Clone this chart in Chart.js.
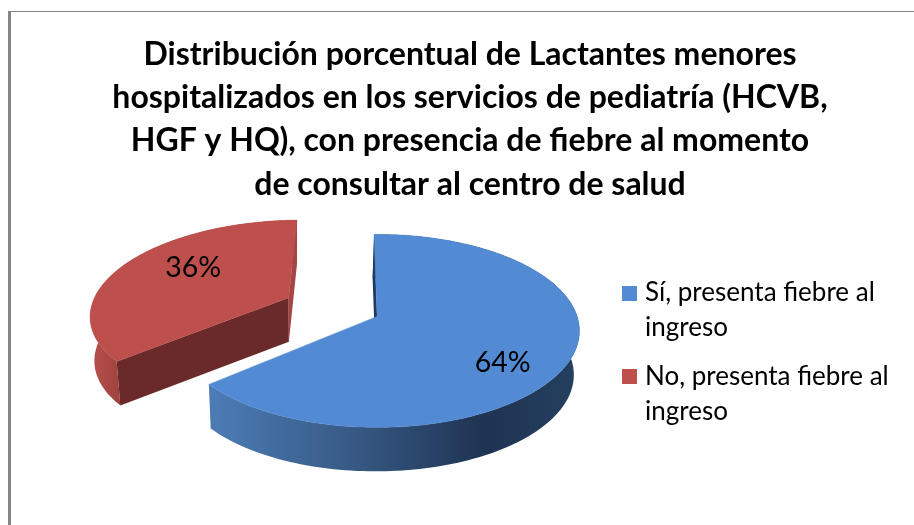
<!DOCTYPE html>
<html><head><meta charset="utf-8">
<script src="https://cdn.jsdelivr.net/npm/chart.js@4"></script>
<style>
html,body{margin:0;padding:0;background:#fff;width:914px;height:525px;overflow:hidden}
#frame{position:absolute;left:8px;top:11px;right:0;bottom:0;border-left:3px solid #868686;border-top:1px solid #868686}
#wrap{position:absolute;left:0;top:0;width:914px;height:525px}
</style></head><body>
<div id="frame"></div>
<div id="wrap"><canvas id="c" width="914" height="525"></canvas></div>
<script>
const categories = ["Sí, presenta fiebre al ingreso", "No, presenta fiebre al ingreso"];
const values = [64, 36];
const legendLines = [["Sí, presenta fiebre al", "ingreso"], ["No, presenta fiebre al", "ingreso"]];
const titleLines = [
  "Distribución porcentual de Lactantes menores",
  "hospitalizados en los servicios de pediatría (HCVB,",
  "HGF y HQ), con presencia de fiebre al momento",
  "de consultar al centro de salud"
];
const faceColors = ["#528AD3", "#BD4F4D"];

/* view of the tilted pie */
const view = {a:200, b:94.3, p:0.15, shiftX:49.5, shiftY:-12, depth:44, skew:0.02, skewX:300};
const labelPos = [{t:0.66, dx:0, dy:20}, {t:0.6, dx:4, dy:-9}];
const legendAt = {left:614, down:267};

function projector(chart, el){
  const R = el.outerRadius;
  const o = (el.options.offset||0)/R;
  const mid = (el.startAngle+el.endAngle)/2;
  const ox = Math.cos(mid)*o, oy = Math.sin(mid)*o;
  const cx = el.x+view.shiftX, cy = el.y+view.shiftY;
  return function(r, ang){
    const u = ox+r*Math.cos(ang), v = oy+r*Math.sin(ang);
    const d = 1-view.p*v;
    return [cx+view.a*u/d, cy+view.b*v/d];
  };
}
const down = (pt)=>[pt[0]-view.skew*(pt[0]-view.skewX), pt[1]+view.depth];
function poly(ctx, pts, fill){
  ctx.beginPath();
  pts.forEach((q,i)=> i? ctx.lineTo(q[0],q[1]) : ctx.moveTo(q[0],q[1]));
  ctx.closePath(); ctx.fillStyle=fill; ctx.fill();
}
function rimGradient(ctx, i){
  if(i===0){
    const g = ctx.createLinearGradient(211,0,580,0);
    g.addColorStop(0,"#4c7cb6"); g.addColorStop(0.38,"#375a85");
    g.addColorStop(0.74,"#1f3352"); g.addColorStop(1,"#25405f");
    return g;
  }
  const g = ctx.createLinearGradient(92,0,125,0);
  g.addColorStop(0,"#b8504d"); g.addColorStop(1,"#9b3f3c");
  return g;
}
function swatch(color){
  const s = document.createElement("canvas");
  s.width = 15; s.height = 15;
  const x = s.getContext("2d"); x.fillStyle = color; x.fillRect(0,0,15,15);
  return s;
}
const swatches = faceColors.map(swatch);
const pie3d = {
  id:"pie3d",
  afterLayout(chart){
    const lg = chart.legend;
    const dx = legendAt.left - lg.left;
    lg.left += dx; lg.right += dx;
    lg.top += legendAt.down; lg.bottom += legendAt.down;
  },
  beforeDatasetDraw(chart, args){
    const ctx = chart.ctx;
    const arcs = args.meta.data;
    [1,0].forEach(i=>{
      const el = arcs[i];
      const P = projector(chart, el);
      const N = 160, rim = [];
      for(let k=0;k<=N;k++) rim.push(P(1, el.startAngle+(el.endAngle-el.startAngle)*k/N));
      const apex = P(0,0);
      poly(ctx, rim.concat(rim.map(down).reverse()), rimGradient(ctx,i));
      const first = rim[0], last = rim[N];
      if(i===0){
        poly(ctx,[apex,first,down(first),down(apex)],"#1f3a5e");
      }else{
        poly(ctx,[apex,first,down(first),down(apex)],"#6b2a2a");
        poly(ctx,[apex,last,down(last),down(apex)],"#A64644");
      }
      poly(ctx,[apex].concat(rim),faceColors[i]);
      ctx.strokeStyle=faceColors[i]; ctx.lineWidth=0.5; ctx.stroke();
    });
    ctx.fillStyle="#000";
    ctx.font="28.5px Lato, sans-serif";
    ctx.textAlign="center"; ctx.textBaseline="middle";
    arcs.forEach((el,i)=>{
      const P = projector(chart, el);
      const pt = P(labelPos[i].t,(el.startAngle+el.endAngle)/2);
      ctx.fillText(values[i]+"%", pt[0]+labelPos[i].dx, pt[1]+labelPos[i].dy);
    });
    return false;
  }
};
new Chart(document.getElementById("c"),{
  type:"pie",
  data:{labels:categories,datasets:[{data:values,backgroundColor:faceColors,borderWidth:0,offset:[0,50],radius:100}]},
  plugins:[pie3d],
  options:{
    responsive:false,animation:false,rotation:-1,
    layout:{padding:{left:26,right:0,top:0,bottom:84}},
    plugins:{
      tooltip:{enabled:false},
      title:{display:true,text:titleLines,color:"#000",
        font:{family:"Lato, sans-serif",size:32,weight:"bold",lineHeight:1.35},
        padding:{top:33,bottom:10}},
      legend:{display:true,position:"right",align:"start",
        labels:{usePointStyle:true,pointStyleWidth:5,boxHeight:15,padding:13,color:"#000",
          font:{family:"Lato, sans-serif",size:26,lineHeight:1.35},
          generateLabels:(chart)=>legendLines.map((t,i)=>({text:t,fillStyle:faceColors[i],strokeStyle:faceColors[i],lineWidth:0,hidden:false,index:i,pointStyle:swatches[i]}))
        }
      }
    }
  }
});
</script>
</body></html>
